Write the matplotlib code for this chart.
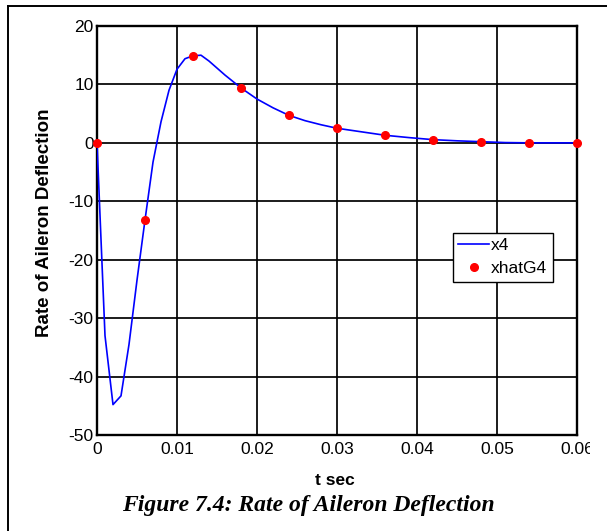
import matplotlib
matplotlib.use('Agg')
import matplotlib.pyplot as plt
from matplotlib.lines import Line2D
from matplotlib.transforms import Bbox, TransformedBbox
import numpy as np

plt.rcParams['font.family'] = ['Liberation Sans', 'DejaVu Sans']
plt.rcParams['axes.unicode_minus'] = False

# x4 : true state
t_x4 = [0, 0.001, 0.002, 0.003, 0.004, 0.005, 0.006, 0.007, 0.008, 0.009,
        0.010, 0.011, 0.012, 0.013, 0.014, 0.015, 0.016, 0.017, 0.018, 0.020,
        0.022, 0.024, 0.026, 0.028, 0.030, 0.033, 0.036, 0.039, 0.042, 0.045,
        0.048, 0.051, 0.054, 0.057, 0.060]
x4 = [0, -33.0, -44.8, -43.3, -34.5, -23.5, -13.2, -3.3, 3.6, 9.0,
      12.6, 14.4, 14.9, 15.0, 14.0, 12.8, 11.6, 10.5, 9.4, 7.5,
      6.0, 4.7, 3.8, 3.1, 2.5, 1.9, 1.3, 0.9, 0.55, 0.35,
      0.2, 0.05, 0.0, 0.0, 0.0]

# xhatG4 : estimate samples
t_hat = [0, 0.006, 0.012, 0.018, 0.024, 0.030, 0.036, 0.042, 0.048, 0.054, 0.060]
xhatG4 = [0, -13.2, 14.85, 9.4, 4.7, 2.5, 1.3, 0.5, 0.17, -0.05, -0.05]

xticks = [0, 0.01, 0.02, 0.03, 0.04, 0.05, 0.06]
xticklabels = ['0', '0.01', '0.02', '0.03', '0.04', '0.05', '0.06']
yticks = [-50, -40, -30, -20, -10, 0, 10, 20]

W, H = 607, 531
fig = plt.figure(figsize=(W/100, H/100), dpi=100)
ax = fig.add_axes([97/W, 1-435/H, 480/W, 409/H])

ax.plot(t_x4, x4, color='#0000ff', lw=1.2, label='x4', zorder=3)
ax.plot(t_hat, xhatG4, 'o', color='#ff0000', ms=5.5, mec='#ff0000',
        label='xhatG4', clip_on=False, zorder=4)

ax.set_xlim(0, 0.06)
ax.set_ylim(-50, 20)
ax.set_xticks(xticks)
ax.set_xticklabels(xticklabels)
ax.set_yticks(yticks)
ax.tick_params(direction='in', length=0, labelsize=12.5, pad=2.5)
ax.tick_params(axis='x', pad=5)
ax.grid(True, color='k', lw=1.25, ls='-')
for s in ax.spines.values():
    s.set_linewidth(1.7)

ax.set_ylabel('Rate of Aileron Deflection', fontsize=13.5, fontweight='bold')
ax.yaxis.set_label_coords(-0.092, 0.52)
ax.set_xlabel('t sec', fontsize=12.5, fontweight='bold')
ax.xaxis.set_label_coords(0.495, -0.093)

leg = ax.legend(loc='upper left', bbox_to_anchor=(453/W, 1-233/H),
                bbox_transform=fig.transFigure, borderaxespad=0,
                fontsize=12.5, fancybox=False, framealpha=1, edgecolor='k',
                handlelength=1.8, handletextpad=0.1, borderpad=0.3,
                labelspacing=0.45)
leg.get_frame().set_linewidth(1.0)

# the last tick label is cut in the original picture
clip = TransformedBbox(Bbox([[0, 0], [590/W, 1]]), fig.transFigure)
lbl = ax.get_xticklabels()[-1]
lbl.set_clip_on(True)
lbl.set_clip_box(clip)

# outer frame
fig.add_artist(Line2D([8/W, 8/W], [0, 1-6/H], transform=fig.transFigure, color='k', lw=1.4))
fig.add_artist(Line2D([8/W, 1], [1-6/H, 1-6/H], transform=fig.transFigure, color='k', lw=1.4))

fig.text(308/W, 1-505/H, 'Figure 7.4: Rate of Aileron Deflection',
         family=['Liberation Serif', 'DejaVu Serif'], fontsize=17,
         fontweight='bold', style='italic', ha='center', va='center')

plt.savefig('out.png', dpi=100)
plt.close()
